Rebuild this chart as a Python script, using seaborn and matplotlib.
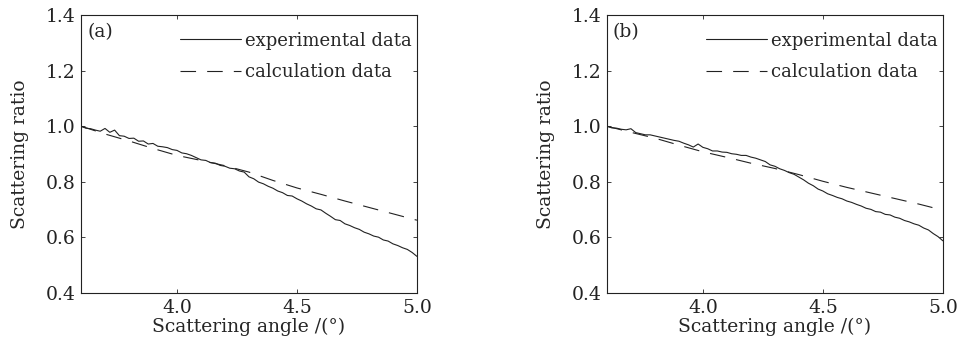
import seaborn as sns
import matplotlib.pyplot as plt
import numpy as np
import pandas as pd

# angles (deg)
exp_angle = np.round(np.arange(3.60, 5.001, 0.02), 2)
calc_angle = np.round(np.arange(3.6, 5.001, 0.1), 1)

# panel (a)
exp_a = [1.000, 0.993, 0.991, 0.986, 0.982, 0.992, 0.978, 0.986, 0.966, 0.964,
         0.956, 0.957, 0.946, 0.947, 0.936, 0.938, 0.928, 0.926, 0.923, 0.916,
         0.913, 0.904, 0.901, 0.895, 0.887, 0.879, 0.877, 0.869, 0.867, 0.859,
         0.856, 0.849, 0.847, 0.839, 0.835, 0.818, 0.811, 0.799, 0.793, 0.784,
         0.777, 0.767, 0.761, 0.751, 0.749, 0.739, 0.731, 0.721, 0.713, 0.703,
         0.699, 0.687, 0.676, 0.664, 0.661, 0.649, 0.643, 0.635, 0.629, 0.619,
         0.613, 0.605, 0.601, 0.591, 0.587, 0.577, 0.571, 0.563, 0.557, 0.546,
         0.532]
calc_a = [1.000, 0.972, 0.947, 0.920, 0.895, 0.877, 0.858, 0.835, 0.805, 0.778,
          0.755, 0.731, 0.708, 0.685, 0.662]

# panel (b)
exp_b = [1.000, 0.994, 0.993, 0.989, 0.987, 0.991, 0.977, 0.973, 0.969, 0.969,
         0.965, 0.961, 0.957, 0.953, 0.949, 0.946, 0.939, 0.933, 0.925, 0.936,
         0.924, 0.919, 0.911, 0.911, 0.907, 0.906, 0.901, 0.899, 0.895, 0.895,
         0.889, 0.885, 0.879, 0.873, 0.861, 0.856, 0.847, 0.841, 0.833, 0.827,
         0.817, 0.807, 0.795, 0.786, 0.774, 0.767, 0.757, 0.751, 0.744, 0.739,
         0.731, 0.726, 0.719, 0.713, 0.705, 0.701, 0.693, 0.691, 0.683, 0.681,
         0.673, 0.669, 0.661, 0.656, 0.649, 0.644, 0.634, 0.627, 0.614, 0.603,
         0.588]
calc_b = [1.000, 0.978, 0.957, 0.932, 0.908, 0.888, 0.867, 0.848, 0.826, 0.802,
          0.780, 0.760, 0.740, 0.720, 0.698]

panels = [("(a)", exp_a, calc_a), ("(b)", exp_b, calc_b)]

sns.set_style("ticks")
plt.rcParams['font.family'] = ['DejaVu Serif']
plt.rcParams['mathtext.fontset'] = 'dejavuserif'

fig = plt.figure(figsize=(9.68, 3.4), dpi=100)
lefts = [0.0837, 0.627]

for (tag, ev, cv), left in zip(panels, lefts):
    ax = fig.add_axes([left, 0.138, 0.347, 0.818])
    sns.lineplot(x=exp_angle, y=ev, ax=ax, color="#222222", lw=0.8,
                 label="experimental data")
    sns.lineplot(x=calc_angle, y=cv, ax=ax, color="#222222", lw=0.8,
                 dashes=False, label="calculation data")
    ax.lines[1].set_dashes([14, 10])
    ax.set_xlim(3.6, 5.0)
    ax.set_ylim(0.4, 1.4)
    ax.set_xticks([4.0, 4.5, 5.0])
    ax.set_yticks([0.4, 0.6, 0.8, 1.0, 1.2, 1.4])
    ax.xaxis.set_major_formatter(plt.FormatStrFormatter('%.1f'))
    ax.yaxis.set_major_formatter(plt.FormatStrFormatter('%.1f'))
    ax.tick_params(direction='in', length=3, width=0.6, top=True, right=True,
                   labelsize=13.5, pad=4, colors="#222222")
    for s in ax.spines.values():
        s.set_linewidth(0.8)
        s.set_color("#222222")
    ax.set_xlabel("Scattering angle /(°)", fontsize=13.5, labelpad=1)
    ax.set_ylabel("Scattering ratio", fontsize=13.5, labelpad=12)
    ax.text(0.018, 0.97, tag, transform=ax.transAxes, fontsize=13.5,
            va='top', ha='left')
    leg = ax.legend(loc='upper right', frameon=False, fontsize=13,
                    handlelength=3.4, handletextpad=0.2, labelspacing=0.75,
                    borderaxespad=0.0, borderpad=0.3,
                    bbox_to_anchor=(1.0, 0.96))

fig.savefig("out.png", dpi=100)
